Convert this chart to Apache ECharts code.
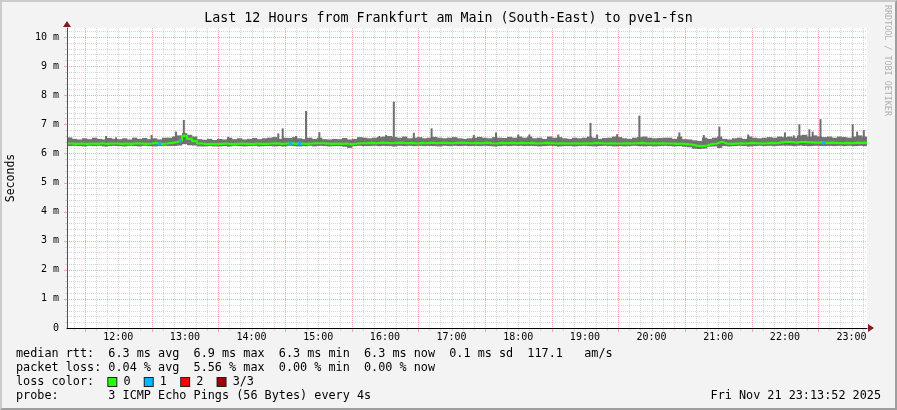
<!DOCTYPE html>
<html><head><meta charset="utf-8">
<script src="https://cdn.jsdelivr.net/npm/echarts@6/dist/echarts.min.js"></script>
<style>
html,body{margin:0;padding:0;background:#f3f3f3;}
#main{width:897px;height:410px;}
#frame{position:absolute;left:0;top:0;width:897px;height:410px;box-sizing:border-box;border-top:2px solid #cbcbcb;border-left:2px solid #cbcbcb;border-right:2px solid #9e9e9e;border-bottom:2px solid #9e9e9e;pointer-events:none;}
</style></head>
<body><div id="main"></div><div id="frame"></div>
<script>
// ---- data ----
const startTime = '11:13:52';
const endTime = '23:13:52';
const binMinutes = 4.5;
const hourLabels = ['12:00','13:00','14:00','15:00','16:00','17:00','18:00','19:00','20:00','21:00','22:00','23:00'];
const yTickValues = [0,1,2,3,4,5,6,7,8,9,10];

const smokeHigh = [
6.55,6.50,6.48,6.52,6.49,6.54,6.50,6.48,6.53,6.50,
6.49,6.52,6.48,6.54,6.50,6.53,6.49,6.52,6.48,6.54,
6.54,6.58,6.62,6.70,6.64,6.58,6.49,6.47,6.50,6.46,
6.50,6.48,6.54,6.49,6.52,6.48,6.50,6.53,6.49,6.52,
6.54,6.56,6.50,6.54,6.53,6.56,6.52,6.49,6.54,6.50,
6.54,6.49,6.48,6.50,6.49,6.53,6.48,6.50,6.56,6.54,
6.52,6.54,6.56,6.58,6.60,6.56,6.54,6.58,6.52,6.54,
6.56,6.52,6.54,6.57,6.54,6.52,6.54,6.56,6.52,6.50,
6.52,6.54,6.57,6.54,6.52,6.56,6.54,6.53,6.57,6.54,
6.58,6.54,6.58,6.52,6.54,6.50,6.58,6.54,6.56,6.52,
6.50,6.54,6.52,6.54,6.58,6.54,6.50,6.53,6.54,6.58,
6.56,6.52,6.50,6.54,6.56,6.58,6.54,6.52,6.53,6.54,
6.54,6.50,6.58,6.49,6.48,6.45,6.43,6.54,6.50,6.54,
6.58,6.50,6.48,6.52,6.54,6.50,6.58,6.54,6.52,6.54,
6.56,6.54,6.58,6.56,6.58,6.54,6.62,6.64,6.58,6.62,
6.58,6.56,6.58,6.54,6.58,6.56,6.54,6.58,6.62,6.58];

const smokeLow = [
6.25,6.26,6.25,6.24,6.26,6.25,6.26,6.24,6.25,6.26,
6.25,6.24,6.26,6.25,6.24,6.26,6.25,6.24,6.25,6.26,
6.25,6.26,6.27,6.32,6.28,6.27,6.24,6.24,6.25,6.24,
6.24,6.25,6.24,6.26,6.25,6.24,6.25,6.26,6.24,6.25,
6.25,6.24,6.25,6.24,6.26,6.25,6.24,6.25,6.26,6.24,
6.26,6.25,6.24,6.25,6.25,6.23,6.19,6.25,6.26,6.25,
6.25,6.26,6.25,6.26,6.25,6.24,6.26,6.25,6.26,6.25,
6.26,6.25,6.26,6.25,6.24,6.26,6.25,6.26,6.25,6.26,
6.25,6.26,6.25,6.26,6.25,6.24,6.25,6.26,6.25,6.26,
6.26,6.25,6.26,6.25,6.24,6.25,6.26,6.25,6.24,6.25,
6.25,6.24,6.25,6.26,6.25,6.24,6.25,6.26,6.25,6.24,
6.25,6.24,6.25,6.26,6.25,6.24,6.25,6.24,6.25,6.26,
6.25,6.24,6.25,6.23,6.21,6.16,6.15,6.17,6.23,6.24,
6.19,6.25,6.24,6.25,6.26,6.25,6.24,6.25,6.26,6.25,
6.26,6.25,6.26,6.27,6.26,6.25,6.27,6.26,6.25,6.26,
6.26,6.25,6.26,6.25,6.26,6.25,6.26,6.25,6.26,6.25];

const medianRtt = [
6.34,6.33,6.34,6.33,6.34,6.33,6.35,6.33,6.34,6.34,
6.33,6.34,6.33,6.35,6.34,6.33,6.34,6.36,6.33,6.34,
6.36,6.39,6.44,6.60,6.50,6.42,6.34,6.32,6.33,6.32,
6.33,6.34,6.32,6.33,6.34,6.33,6.32,6.34,6.33,6.33,
6.34,6.35,6.33,6.34,6.35,6.33,6.34,6.33,6.34,6.35,
6.35,6.34,6.33,6.34,6.33,6.34,6.31,6.34,6.35,6.35,
6.36,6.35,6.37,6.36,6.35,6.36,6.37,6.35,6.36,6.34,
6.36,6.35,6.37,6.35,6.36,6.36,6.35,6.36,6.37,6.36,
6.35,6.36,6.35,6.37,6.35,6.34,6.36,6.35,6.36,6.35,
6.36,6.35,6.36,6.34,6.35,6.36,6.35,6.34,6.35,6.34,
6.34,6.35,6.34,6.35,6.34,6.36,6.35,6.34,6.35,6.34,
6.34,6.35,6.34,6.35,6.36,6.34,6.35,6.34,6.35,6.34,
6.34,6.33,6.34,6.32,6.30,6.27,6.25,6.27,6.32,6.34,
6.40,6.34,6.33,6.34,6.35,6.34,6.36,6.35,6.34,6.35,
6.36,6.35,6.38,6.40,6.39,6.37,6.40,6.39,6.38,6.37,
6.38,6.36,6.37,6.36,6.35,6.36,6.35,6.37,6.36,6.37];

const spikes = [
['11:49',6.60],['11:58',6.55],['12:30',6.63],['12:50',6.57],['12:52',6.75],['12:59',7.15],
['13:39',6.57],['14:24',6.69],['14:28',6.86],['14:40',6.60],['14:49',7.46],['15:01',6.73],
['15:40',6.54],['15:55',6.60],['16:01',6.63],['16:08',7.78],['16:26',6.71],['16:42',6.86],
['17:20',6.63],['17:40',6.72],['18:00',6.65],['18:10',6.65],['18:36',6.65],['19:05',7.05],
['19:11',6.65],['19:29',6.66],['19:49',7.30],['20:25',6.72],['20:47',6.63],['21:01',6.92],
['21:27',6.65],['22:00',6.72],['22:08',6.62],['22:13',7.00],['22:17',6.63],['22:22',6.83],
['22:25',6.75],['22:32',7.18],['22:53',6.55],['23:01',7.00],['23:05',6.75],['23:11',6.80]];

const lossEvents = [['12:37',1],['12:56',1],['14:35',1],['14:43',1],['22:35',1]];

const titleText = 'Last 12 Hours from Frankfurt am Main (South-East) to pve1-fsn';
const legendLines = [
  'median rtt:  6.3 ms avg  6.9 ms max  6.3 ms min  6.3 ms now  0.1 ms sd  117.1   am/s',
  'packet loss: 0.04 % avg  5.56 % max  0.00 % min  0.00 % now',
  'probe:       3 ICMP Echo Pings (56 Bytes) every 4s'
];
const lossColors = [['0','#26ff00'],['1','#00b8ff'],['2','#ff0000'],['3/3','#a00000']];
const dateText = 'Fri Nov 21 23:13:52 2025';

// ---- build ----
function toMin(s){const p=s.split(':').map(Number);return p[0]*60+p[1]+(p[2]||0)/60;}
const xMin = toMin(startTime), xMax = toMin(endTime);
const yMax = 10.31;
const hourVals = hourLabels.map(toMin);
const halfVals = [], minorXVals = [];
for (let m = Math.ceil(xMin/10)*10; m < xMax; m += 10) {
  if (m % 60 === 30) halfVals.push(m); else minorXVals.push(m);
}
const minorYVals = [];
for (let i = 1; i * 0.2 < yMax; i++) { if (i % 5 !== 0) minorYVals.push(+(i*0.2).toFixed(1)); }

const smokeData = smokeHigh.map((h,i)=>[xMin + i*binMinutes, smokeLow[i], h]);
const medianData = medianRtt.map((v,i)=>[xMin + i*binMinutes, v]);
medianData.push([xMax, medianRtt[medianRtt.length-1]]);
function binOf(t){return Math.min(smokeHigh.length-1, Math.max(0, Math.floor((t-xMin)/binMinutes)));}
const spikeData = spikes.map(s=>{const t=toMin(s[0]);return [t, smokeLow[binOf(t)], s[1]];});
const lossData = lossEvents.map(e=>{const t=toMin(e[0]);return [t, medianRtt[binOf(t)], e[1]];});

const FONT = 'DejaVu Sans Mono';
const MINOR = '#d6d6d6', MAJOR = '#f4a8a8';

// grid line series drawn through the axis scales
function vGrid(vals, color, tickLen, z){
  return {type:'custom', silent:true, clip:false, z:z, xAxisIndex:0, yAxisIndex:0,
    data: vals.map(v=>[v, 0]), encode:{x:0, y:1},
    renderItem:(params, api)=>{
      const x = Math.round(api.coord([api.value(0), 0])[0]) + 0.5;
      const yTop = api.coord([xMin, yMax])[1], yBot = api.coord([xMin, 0])[1];
      return {type:'group', children:[
        {type:'line', shape:{x1:x, y1:Math.round(yTop), x2:x, y2:Math.round(yBot)}, style:{stroke:color, lineWidth:1, lineDash:[1,1]}},
        {type:'line', shape:{x1:x, y1:Math.round(yBot)+1, x2:x, y2:Math.round(yBot)+1+tickLen}, style:{stroke:color, lineWidth:1}}
      ]};
    }};
}
function hGrid(vals, color, tickLen, z){
  return {type:'custom', silent:true, clip:false, z:z, xAxisIndex:0, yAxisIndex:0,
    data: vals.map(v=>[xMin, v]), encode:{x:0, y:1},
    renderItem:(params, api)=>{
      const y = Math.round(api.coord([xMin, api.value(1)])[1]) + 0.5;
      const xL = api.coord([xMin, 0])[0], xR = api.coord([xMax, 0])[0];
      return {type:'group', children:[
        {type:'line', shape:{x1:Math.round(xL), y1:y, x2:Math.round(xR), y2:y}, style:{stroke:color, lineWidth:1, lineDash:[1,1]}},
        {type:'line', shape:{x1:Math.round(xL)-tickLen, y1:y, x2:Math.round(xL), y2:y}, style:{stroke:color, lineWidth:1}}
      ]};
    }};
}

const chart = echarts.init(document.getElementById('main'), null, {renderer:'canvas'});

const option = {
  backgroundColor:'#f3f3f3',
  animation:false,
  title:{text:titleText, left:'center', top:12, padding:0,
    textStyle:{fontFamily:FONT, fontSize:13.3, fontWeight:'normal', color:'#000'}},
  grid:{left:67, top:28, width:800, height:300, containLabel:false, outerBoundsMode:'none'},
  xAxis:{type:'value', min:xMin, max:xMax, position:'bottom', z:5,
    axisLine:{show:true, onZero:false, lineStyle:{color:'#000', width:1}},
    axisTick:{show:false},
    axisLabel:{customValues:hourVals, margin:4, color:'#000', fontFamily:FONT, fontSize:10,
      formatter:v=>{const h=Math.floor(v/60), m=Math.round(v%60);return (h<10?'0':'')+h+':'+(m<10?'0':'')+m;}},
    splitLine:{show:false}},
  yAxis:{type:'value', min:0, max:yMax, position:'left', z:5,
    axisLine:{show:true, onZero:false, lineStyle:{color:'#505050', width:1}},
    axisTick:{show:false},
    axisLabel:{customValues:yTickValues, margin:8, color:'#000', fontFamily:FONT, fontSize:10,
      formatter:v=> v===0 ? '0' : v+' m'},
    splitLine:{show:false},
    name:'Seconds', nameLocation:'middle', nameRotate:90, nameGap:50,
    nameTextStyle:{fontFamily:FONT, fontSize:11.5, color:'#000'}},
  series:[
    {type:'custom', silent:true, clip:false, z:0, data:[[xMin, 0]], encode:{x:0, y:1},
      renderItem:(params, api)=>{
        const a = api.coord([xMin, yMax]), b = api.coord([xMax, 0]);
        return {type:'rect', shape:{x:a[0], y:a[1], width:b[0]-a[0], height:b[1]-a[1]}, style:{fill:'#ffffff'}};
      }},
    vGrid(minorXVals, MINOR, 2, 1),
    hGrid(minorYVals, MINOR, 2, 1),
    vGrid(halfVals, MAJOR, 3, 1.5),
    hGrid(yTickValues.filter(v=>v>0), MAJOR, 3, 1.5),
    {type:'custom', name:'smoke', data:smokeData, clip:true, z:2,
      encode:{x:0, y:[1,2]},
      renderItem:(params, api)=>{
        const p1 = api.coord([api.value(0), api.value(2)]);
        const p2 = api.coord([api.value(0)+binMinutes, api.value(1)]);
        return {type:'rect', shape:{x:p1[0], y:p1[1], width:p2[0]-p1[0]+0.3, height:p2[1]-p1[1]},
          style:{fill:'#737373'}};
      }},
    {type:'custom', name:'spikes', data:spikeData, clip:true, z:3,
      encode:{x:0, y:[1,2]},
      renderItem:(params, api)=>{
        const w = api.size([1.8, 0])[0];
        const p1 = api.coord([api.value(0), api.value(2)]);
        const p2 = api.coord([api.value(0), api.value(1)]);
        return {type:'rect', shape:{x:p1[0]-w/2, y:p1[1], width:w, height:p2[1]-p1[1]},
          style:{fill:'#6e6e6e'}};
      }},
    {type:'line', name:'median', data:medianData, step:'end',
      showSymbol:false, symbol:'none', z:4,
      lineStyle:{color:'#26ff00', width:2.2}},
    {type:'custom', name:'loss', data:lossData, clip:true, z:5,
      encode:{x:0, y:1},
      renderItem:(params, api)=>{
        const w = api.size([3, 0])[0];
        const p = api.coord([api.value(0), api.value(1)]);
        return {type:'rect', shape:{x:p[0]-w/2, y:p[1]-1.5, width:w, height:3},
          style:{fill: lossColors[api.value(2)][1]}};
      }}
  ]
};
chart.setOption(option);

// decorations: axis arrows, side credit, legend text
const topLeft = chart.convertToPixel({xAxisIndex:0, yAxisIndex:0}, [xMin, yMax]);
const botRight = chart.convertToPixel({xAxisIndex:0, yAxisIndex:0}, [xMax, 0]);
const rich = {t:{fontFamily:FONT, fontSize:11.8, fill:'#000'}};
let lossStr = '{t|loss color:  }';
lossColors.forEach((c,i)=>{
  rich['c'+i] = {width:8, height:8, backgroundColor:c[1], borderColor:'#222', borderWidth:1};
  lossStr += '{c'+i+'| }{t| '+c[0]+(i<lossColors.length-1?'  ':'')+'}';
});
const textStyle = {fontFamily:FONT, fontSize:11.8, fill:'#000'};
chart.setOption({graphic:[
  {type:'polygon', shape:{points:[[topLeft[0]-4,topLeft[1]-1],[topLeft[0]+4,topLeft[1]-1],[topLeft[0],topLeft[1]-7]]}, style:{fill:'#7f1f1f'}, z:10},
  {type:'polygon', shape:{points:[[botRight[0]+1,botRight[1]-4],[botRight[0]+1,botRight[1]+4],[botRight[0]+7,botRight[1]]]}, style:{fill:'#7f1f1f'}, z:10},
  {type:'text', x:887, y:5, rotation:-Math.PI/2,
    style:{text:'RRDTOOL / TOBI OETIKER', fontFamily:FONT, fontSize:8.4, fill:'#b0b0b0', textAlign:'left', textVerticalAlign:'middle'}},
  {type:'text', x:16, y:354, style:Object.assign({text:legendLines[0], textVerticalAlign:'middle'}, textStyle)},
  {type:'text', x:16, y:368, style:Object.assign({text:legendLines[1], textVerticalAlign:'middle'}, textStyle)},
  {type:'text', x:16, y:382, style:{text:lossStr, rich:rich, fontFamily:FONT, fontSize:11.8, textVerticalAlign:'middle'}},
  {type:'text', x:16, y:396, style:Object.assign({text:legendLines[2], textVerticalAlign:'middle'}, textStyle)},
  {type:'text', x:881, y:396, style:Object.assign({text:dateText, textAlign:'right', textVerticalAlign:'middle'}, textStyle)}
]});
</script>
</body></html>
